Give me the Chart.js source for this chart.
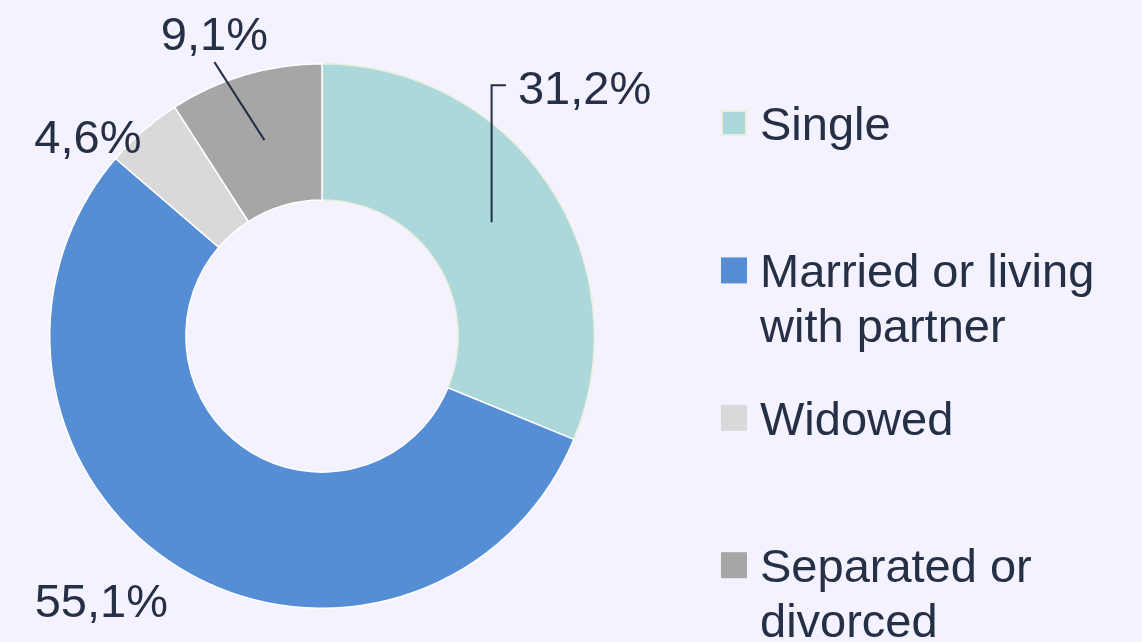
<!DOCTYPE html>
<html>
<head>
<meta charset="utf-8">
<script src="https://cdn.jsdelivr.net/npm/chart.js@4.4.1/dist/chart.umd.min.js"></script>
<style>
  html, body { margin: 0; padding: 0; background: #f4f2fe; }
  canvas { display: block; }
</style>
</head>
<body>
<canvas id="maritalChart" width="1142" height="642"></canvas>
<script>
// Data
const categories = ['Single', 'Married or living with partner', 'Widowed', 'Separated or divorced'];
const legendLines = [['Single'], ['Married or living', 'with partner'], ['Widowed'], ['Separated or', 'divorced']];
const shares = [31.2, 55.1, 4.6, 9.1];

// Styles
const sliceColors = ['#acd8dc', '#558ed5', '#d9d9d9', '#a6a6a6'];
const sliceBorders = ['#e8efda', '#ffffff', '#ffffff', '#ffffff'];
const textColor = '#253047';
const fontFamily = '"Liberation Sans", Arial, sans-serif';

// label offsets from slice centroid (text centre x, baseline y)
const labelOffsets = [[93, -118], [-114, 107], [-100, -29], [-50, -90]];
const leaderType = ['elbow', null, null, 'straight'];

function fmt(v) {
    return v.toFixed(1).replace('.', ',') + '%';
}

const dataLabels = {
    id: 'dataLabels',
    afterDatasetsDraw(chart) {
        const ctx = chart.ctx;
        const meta = chart.getDatasetMeta(0);
        ctx.save();
        ctx.font = '47px ' + fontFamily;
        ctx.fillStyle = textColor;
        ctx.strokeStyle = textColor;
        ctx.lineWidth = 2;
        ctx.textAlign = 'center';
        ctx.textBaseline = 'alphabetic';
        meta.data.forEach((arc, i) => {
            const c = arc.tooltipPosition();
            const tx = c.x + labelOffsets[i][0];
            const ty = c.y + labelOffsets[i][1];
            const text = fmt(shares[i]);
            const w = ctx.measureText(text).width;
            if (leaderType[i] === 'elbow') {
                const ey = ty - 19;
                ctx.beginPath();
                ctx.moveTo(c.x, c.y);
                ctx.lineTo(c.x, ey);
                ctx.lineTo(tx - w / 2 - 12, ey);
                ctx.stroke();
            } else if (leaderType[i] === 'straight') {
                ctx.beginPath();
                ctx.moveTo(c.x, c.y);
                ctx.lineTo(tx, ty + 12);
                ctx.stroke();
            }
            ctx.fillText(text, tx, ty);
        });
        ctx.restore();
    }
};

const sideLegend = {
    id: 'sideLegend',
    afterDraw(chart) {
        const ctx = chart.ctx;
        const boxX = 721, textX = 760, firstBaseline = 140, step = 147.4, lineH = 55;
        ctx.save();
        ctx.font = '47px ' + fontFamily;
        ctx.textAlign = 'left';
        ctx.textBaseline = 'alphabetic';
        legendLines.forEach((lines, i) => {
            const base = firstBaseline + i * step;
            ctx.fillStyle = sliceBorders[i] === '#ffffff' ? sliceColors[i] : sliceBorders[i];
            ctx.fillRect(boxX, base - 30, 26, 26);
            ctx.fillStyle = sliceColors[i];
            ctx.fillRect(boxX + 2, base - 28, 22, 22);
            ctx.fillStyle = textColor;
            lines.forEach((ln, j) => ctx.fillText(ln, textX, base + j * lineH));
        });
        ctx.restore();
    }
};

let donutChart;

function initChart() {
    const ctx = document.getElementById('maritalChart').getContext('2d');
    donutChart = new Chart(ctx, {
        type: 'doughnut',
        data: {
            labels: categories,
            datasets: [{
                data: shares,
                backgroundColor: sliceColors,
                borderColor: sliceBorders,
                borderWidth: 1.5
            }]
        },
        options: {
            responsive: false,
            animation: false,
            cutout: '50%',
            layout: { padding: { left: 49, top: 63, right: 547, bottom: 33 } },
            events: [],
            plugins: {
                legend: { display: false },
                tooltip: { enabled: false }
            }
        },
        plugins: [dataLabels, sideLegend]
    });
}

initChart();
</script>
</body>
</html>
